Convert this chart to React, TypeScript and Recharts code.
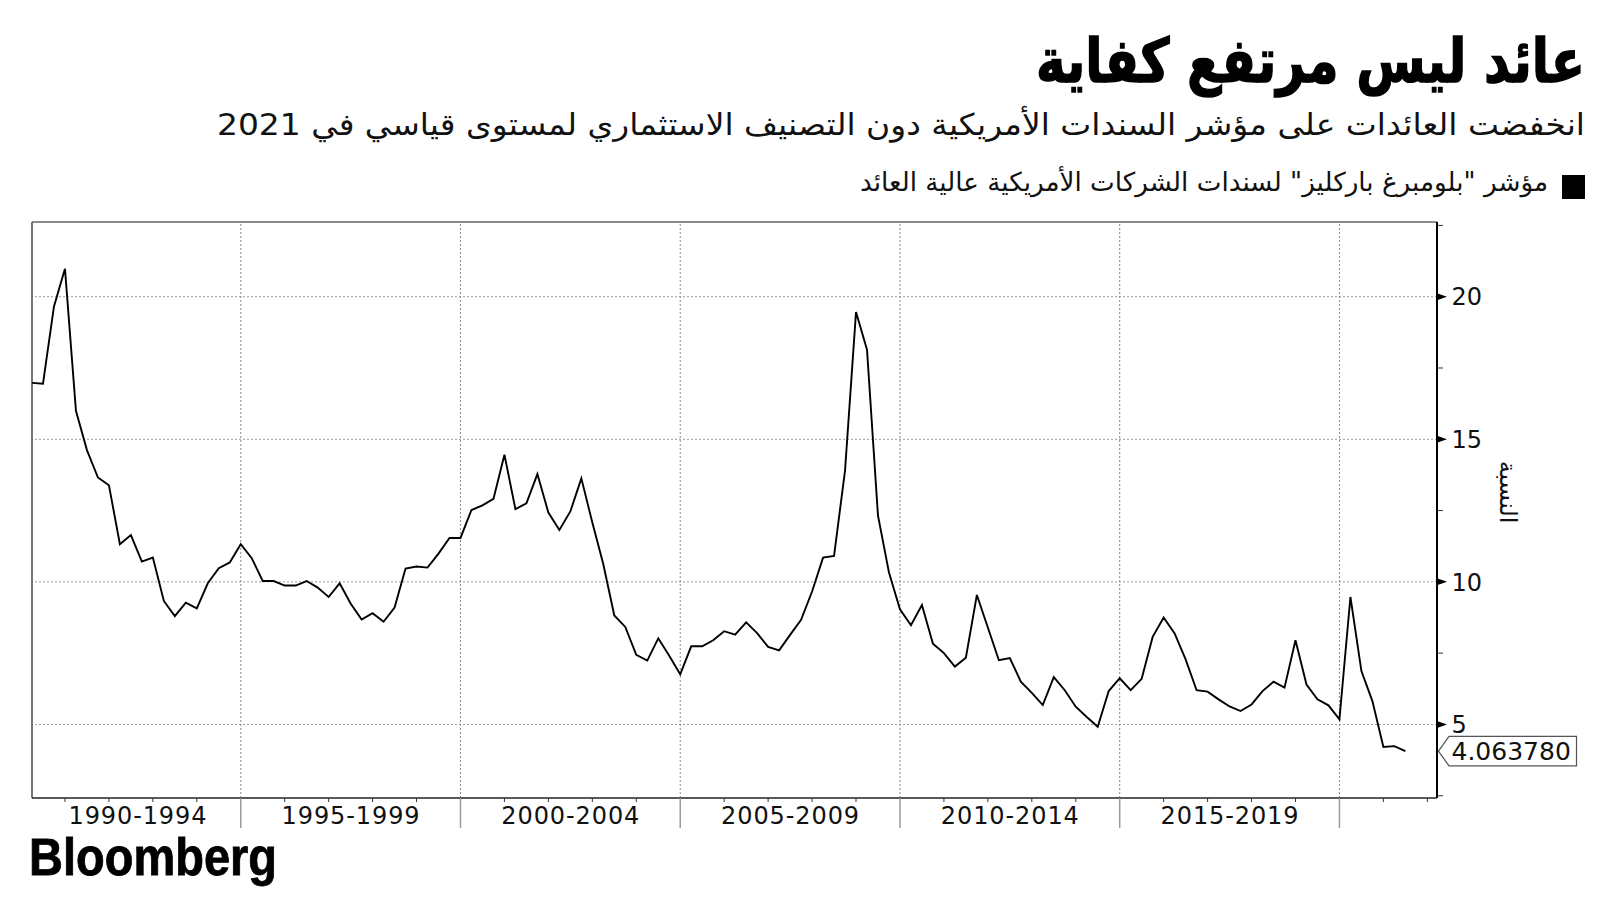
import React from "react";
import { LineChart, Line, XAxis, YAxis, ReferenceLine } from "recharts";

// Quarterly yield-to-worst, % (quarter ends from 1990 Q1 to 2021 Q2)
const FIRST_QUARTER_END = 1990.25;
const yields: number[] = [
  16.98, 16.95, 19.66, 20.98, 16.0, 14.62, 13.66, 13.39, 11.32, 11.64,
  10.71, 10.85, 9.33, 8.8, 9.27, 9.07, 9.95, 10.48, 10.68, 11.32,
  10.83, 10.03, 10.03, 9.87, 9.87, 10.03, 9.8, 9.47, 9.95, 9.24,
  8.68, 8.9, 8.6, 9.1, 10.47, 10.54, 10.5, 10.99, 11.54, 11.54,
  12.52, 12.68, 12.91, 14.46, 12.55, 12.75, 13.78, 12.43, 11.82, 12.47,
  13.63, 12.08, 10.62, 8.82, 8.42, 7.44, 7.24, 8.02, 7.41, 6.76,
  7.74, 7.74, 7.95, 8.27, 8.15, 8.58, 8.2, 7.72, 7.6, 8.14,
  8.67, 9.66, 10.85, 10.91, 13.9, 19.46, 18.14, 12.32, 10.33, 9.04,
  8.48, 9.19, 7.83, 7.5, 7.03, 7.34, 9.54, 8.4, 7.25, 7.33,
  6.5, 6.11, 5.68, 6.66, 6.2, 5.62, 5.26, 4.92, 6.17, 6.62,
  6.2, 6.6, 8.07, 8.75, 8.19, 7.28, 6.2, 6.15, 5.88, 5.63,
  5.47, 5.7, 6.17, 6.5, 6.29, 7.95, 6.4, 5.88, 5.67, 5.18,
  9.47, 6.87, 5.82, 4.21, 4.24, 4.06378,
];

const periodLabels: string[] = ["1990-1994", "1995-1999", "2000-2004", "2005-2009", "2010-2014", "2015-2019"];
const periodCenters: number[] = [1992.65, 1997.5, 2002.5, 2007.5, 2012.5, 2017.5];
const yearTicks: number[] = [
  1991, 1992, 1993, 1994, 1995, 1996, 1997, 1998, 1999, 2000, 2001, 2002, 2003, 2004, 2005,
  2006, 2007, 2008, 2009, 2010, 2011, 2012, 2013, 2014, 2015, 2016, 2017, 2018, 2019, 2020, 2021, 2022,
];
const majorYears: number[] = [1995, 2000, 2005, 2010, 2015, 2020];
const yGrid: number[] = [5, 10, 15, 20];
const yMinor: number[] = [2.5, 7.5, 12.5, 17.5, 22.5];

const X_DOMAIN: [number, number] = [1990.25, 2022.22];
const Y_DOMAIN: [number, number] = [2.42, 22.62];

const title = "عائد ليس مرتفع كفاية";
const subtitle = "انخفضت العائدات على مؤشر السندات الأمريكية دون التصنيف الاستثماري لمستوى قياسي في 2021";
const legendLabel = "مؤشر \"بلومبرغ باركليز\" لسندات الشركات الأمريكية عالية العائد";
const yAxisLabel = "النسبة";

const data = yields.map((v, i) => ({ t: FIRST_QUARTER_END + i * 0.25, y: v }));
const lastValue = yields[yields.length - 1];

const FONT = "'DejaVu Sans', sans-serif";

const XTick = (props: any) => {
  const { x, y, payload } = props;
  const v = payload.value as number;
  const li = periodCenters.indexOf(v);
  if (li >= 0) {
    return (
      <text x={x} y={y + 25.5} textAnchor="middle" fontSize={24} fontFamily={FONT} fill="#111"
        textLength={138} lengthAdjust="spacing">
        {periodLabels[li]}
      </text>
    );
  }
  if (majorYears.indexOf(v) >= 0) {
    return <line x1={x} x2={x} y1={y} y2={y + 30} stroke="#9a9a9a" strokeWidth={1.5} />;
  }
  return <line x1={x} x2={x} y1={y} y2={y + 4} stroke="#333" strokeWidth={1} />;
};

const YTick = (props: any) => {
  const { x, y, payload } = props;
  const v = payload.value as number;
  if (v === lastValue) {
    const h = 14.7;
    return (
      <g>
        <path
          d={`M ${x + 1.5} ${y} L ${x + 12} ${y - h} L ${x + 139.5} ${y - h} L ${x + 139.5} ${y + h} L ${x + 12} ${y + h} Z`}
          fill="#fff" stroke="#555" strokeWidth={1.2} />
        <text x={x + 14.5} y={y + 9} fontSize={25} fontFamily={FONT} fill="#111">
          {lastValue.toFixed(6)}
        </text>
      </g>
    );
  }
  if (yGrid.indexOf(v) >= 0) {
    return (
      <g>
        <path d={`M ${x} ${y - 3.5} L ${x + 10} ${y} L ${x} ${y + 3.5} Z`} fill="#000" />
        <text x={x + 14.5} y={y + 8.7} fontSize={24} fontFamily={FONT} fill="#111">{v}</text>
      </g>
    );
  }
  return <line x1={x} x2={x + 6} y1={y} y2={y} stroke="#333" strokeWidth={1} />;
};

export default function App() {
  return (
    <div style={{ position: "absolute", left: 0, top: 0, width: 1600, height: 900, background: "#fff", overflow: "hidden" }}>
      <div style={{ position: "absolute", left: 0, top: 0 }}>
        <LineChart width={1600} height={900} data={data} margin={{ top: 222, left: 32, right: 33, bottom: 42 }}>
          <XAxis
            dataKey="t"
            type="number"
            domain={X_DOMAIN}
            allowDataOverflow
            ticks={[...yearTicks, ...periodCenters]}
            interval={0}
            tickLine={false}
            tickSize={0}
            tickMargin={0}
            height={60}
            axisLine={{ stroke: "#222", strokeWidth: 1.6 }}
            tick={XTick}
          />
          <YAxis
            orientation="right"
            type="number"
            domain={Y_DOMAIN}
            allowDataOverflow
            ticks={[...yMinor, ...yGrid, lastValue]}
            interval={0}
            tickLine={false}
            tickSize={0}
            tickMargin={0}
            width={130}
            axisLine={{ stroke: "#000", strokeWidth: 2 }}
            tick={YTick}
          />
          {yGrid.map((v) => (
            <ReferenceLine key={"h" + v} y={v} stroke="#999" strokeDasharray="2 2" strokeWidth={1} />
          ))}
          {majorYears.map((v) => (
            <ReferenceLine key={"v" + v} x={v} stroke="#888" strokeDasharray="2 2" strokeWidth={1} />
          ))}
          <ReferenceLine y={Y_DOMAIN[1]} stroke="#666" strokeWidth={1.6} />
          <ReferenceLine x={X_DOMAIN[0]} stroke="#555" strokeWidth={1.6} />
          <Line
            type="linear"
            dataKey="y"
            stroke="#000"
            strokeWidth={1.9}
            dot={false}
            isAnimationActive={false}
          />
        </LineChart>
      </div>
      <svg width={1600} height={900} style={{ position: "absolute", left: 0, top: 0, pointerEvents: "none" }}>
        <g transform="translate(1310.5 82) scale(1 1.22)">
          <text x={0} y={0} fontSize={50} fontWeight="bold" fontFamily={FONT} fill="#000"
            textAnchor="middle" textLength={549} lengthAdjust="spacingAndGlyphs" stroke="#000" strokeWidth={1.2}
            style={{ direction: "rtl" }}>
            {title}
          </text>
        </g>
        <text x={901} y={135} fontSize={30} fontFamily={FONT} fill="#111"
          textAnchor="middle" textLength={1368} lengthAdjust="spacingAndGlyphs" style={{ direction: "rtl" }}>
          {subtitle}
        </text>
        <rect x={1562} y={175} width={23} height={24} fill="#000" />
        <text x={1204} y={191} fontSize={26} fontFamily={FONT} fill="#111"
          textAnchor="middle" textLength={688} lengthAdjust="spacingAndGlyphs" style={{ direction: "rtl" }}>
          {legendLabel}
        </text>
        <text x={1508} y={492} fontSize={24} fontFamily={FONT} fill="#111" textAnchor="middle"
          transform="rotate(90 1508 492)" dy={8} style={{ direction: "rtl" }}>
          {yAxisLabel}
        </text>
        <text x={29} y={875} fontSize={51} fontWeight="bold" fontFamily="'Liberation Sans', Arial, sans-serif"
          fill="#000" textLength={248} lengthAdjust="spacingAndGlyphs" stroke="#000" strokeWidth={0.8}>
          Bloomberg
        </text>
      </svg>
    </div>
  );
}
